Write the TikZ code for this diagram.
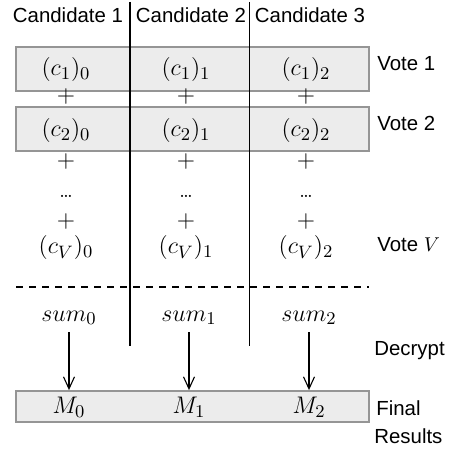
\documentclass[tikz,border=0pt]{standalone}
\usepackage[no-math]{fontspec}
\usepackage{tikz}
\usepackage{xcolor}
\usetikzlibrary{arrows.meta}
\newfontfamily\labelfont{Liberation Sans}
\definecolor{boxfill}{HTML}{ECECEC}
\definecolor{boxline}{HTML}{959595}

\begin{document}
\begin{tikzpicture}[x=0.5pt,y=-0.5pt,
	votebox/.style={draw=boxline, fill=boxfill, line width=0.9pt, minimum width=176.5pt, inner sep=0pt},
	cell/.style={font=\fontsize{13}{15}\selectfont},
	sidelabel/.style={font=\labelfont\fontsize{10.2}{12}\selectfont, inner sep=0pt, anchor=base west},
	head/.style={font=\labelfont\fontsize{10.2}{12}\selectfont, inner sep=0pt, anchor=base}]
	\useasboundingbox (0,0) rectangle (451,453);

	% Boxes for the votes and the results
	\node[votebox, minimum height=22pt] (vote1) at (192.5,69) {};
	\node[votebox, minimum height=22pt] (vote2) at (192.5,129) {};
	\node[votebox, minimum height=15.5pt] (final) at (192.5,406.5) {};

	% Column separators
	\draw[line width=0.55pt] (130,2) -- (130,346);
	\draw[line width=0.55pt] (249.5,2) -- (249.5,346);

	% Sum line
	\draw[dashed, line width=0.55pt, dash pattern=on 3.5pt off 3pt] (16,287) -- (369,287);

	\node[head] (cand1) at (68,23) {Candidate 1};
	\node[head] (cand2) at (191,23) {Candidate 2};
	\node[head] (cand3) at (310,23) {Candidate 3};

	\foreach \k/\x in {0/66,1/186,2/306} {
		\node[cell] (c1\k) at (\x,70) {$(c_1)_\k$};
		\node[cell] (p1\k) at (\x,97) {$+$};
		\node[cell] (c2\k) at (\x,131) {$(c_2)_\k$};
		\node[cell] (p2\k) at (\x,162) {$+$};
		\node[font=\normalsize] (d\k) at (\x,196) {\ldots};
		\node[cell] (p3\k) at (\x,222) {$+$};
		\node[cell] (cv\k) at (\x,248) {$(c_V)_\k$};
	}

	\foreach \k/\x in {0/69,1/189,2/309} {
		\node[cell] (sum\k) at (\x,318) {$sum_\k$};
		\node[cell] (m\k) at (\x,407) {$M_\k$};
		\draw[line width=0.55pt, -{Straight Barb[length=6pt,width=5.5pt]}] (sum\k) -- (sum\k |- final.north); % Decrypt
	}

	\node[sidelabel] (v1) at (377,71) {Vote 1};
	\node[sidelabel] (v2) at (377,131) {Vote 2};
	\node[sidelabel] (vv) at (377,252) {Vote $V$};
	\node[sidelabel] (dec) at (374,355) {Decrypt};
	\node[sidelabel] (fin) at (376,415) {Final};
	\node[sidelabel] (res) at (374,443) {Results};
\end{tikzpicture}
\end{document}
